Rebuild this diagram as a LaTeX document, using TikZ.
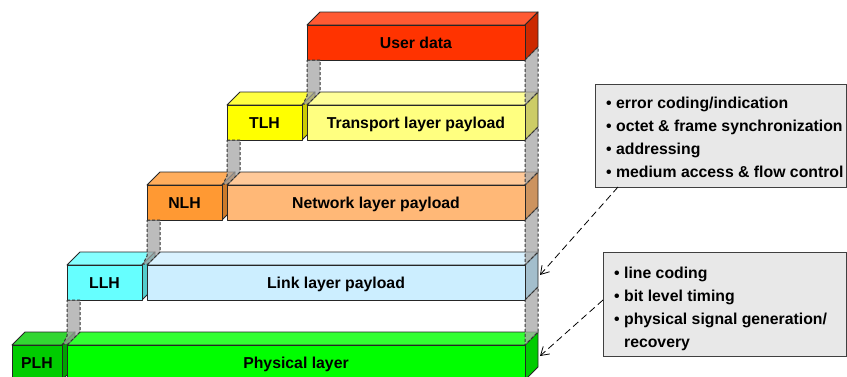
\documentclass[tikz,border=0pt]{standalone}
\usepackage{fontspec}
\setmainfont{Liberation Sans}
\usetikzlibrary{calc,arrows.meta}
\definecolor{udF}{HTML}{FF3300}\definecolor{udT}{HTML}{FF5A33}\definecolor{udS}{HTML}{CC2900}
\definecolor{thF}{HTML}{FFFF00}\definecolor{thT}{HTML}{FFFF40}\definecolor{thS}{HTML}{CCCC00}
\definecolor{tpF}{HTML}{FFFF80}\definecolor{tpT}{HTML}{FFFF99}\definecolor{tpS}{HTML}{CCCC66}
\definecolor{nhF}{HTML}{FF9933}\definecolor{nhT}{HTML}{FFAD5C}\definecolor{nhS}{HTML}{CC7A29}
\definecolor{npF}{HTML}{FFB877}\definecolor{npT}{HTML}{FFC999}\definecolor{npS}{HTML}{CC935F}
\definecolor{lhF}{HTML}{66FFFF}\definecolor{lhT}{HTML}{85FFFF}\definecolor{lhS}{HTML}{52CCCC}
\definecolor{lpF}{HTML}{CCEEFF}\definecolor{lpT}{HTML}{D9F2FF}\definecolor{lpS}{HTML}{A3BECC}
\definecolor{phF}{HTML}{00CC00}\definecolor{phT}{HTML}{33D633}\definecolor{phS}{HTML}{00A300}
\definecolor{plF}{HTML}{00FF00}\definecolor{plT}{HTML}{33FF33}\definecolor{plS}{HTML}{00CC00}
\definecolor{callF}{HTML}{E8E8E8}\definecolor{callD}{HTML}{404040}
\tikzset{
  edge/.style={draw=black!85,line width=0.9pt,line join=round},
  face/.style={edge,rectangle,inner sep=0pt,outer sep=0pt,
    font=\fontsize{15.8}{18}\selectfont\bfseries,text height=11.3pt,text depth=0pt},
  shaft/.style={draw=black!80,fill=black!35,fill opacity=0.75,line width=1pt,dash pattern=on 3pt off 2pt},
  callbox/.style={draw=callD,fill=callF,line width=1pt,rectangle,inner sep=0pt,outer sep=0pt},
  calltext/.style={inner sep=0pt,align=left,font=\fontsize{15.8}{23}\selectfont\bfseries},
  callarrow/.style={draw=black,line width=0.8pt,dash pattern=on 7pt off 4pt,
    -{Straight Barb[length=8pt,width=10pt]}}
}
\newcommand\layerbox[9]{%
  \filldraw[edge,fill=#7] (#2,#3) -- (#2+13,#3-13) -- (#4+13,#3-13) -- (#4,#3) -- cycle;
  \filldraw[edge,fill=#8] (#4,#3) -- (#4+13,#3-13) -- (#4+13,#5-13) -- (#4,#5) -- cycle;
  \node[face,fill=#6,minimum width={(#4-#2)*1pt},minimum height={(#5-#3)*1pt},anchor=north west] (#1) at (#2,#3) {#9};
}
\newcommand\lshaft[2]{%
  \draw[shaft] (#1.south west) -- ++(13,0) -- ($(#2.north west)+(13,-13)$) -- ($(#2.north west)+(1,-1)$)
     -- ++(-5,0) -- ($(#1.south west |- #2.north west)+(0,-9)$) -- cycle;
}
\newcommand\rshaft[2]{%
  \draw[shaft] (#1.south east) -- ++(13,-13) -- ($(#2.north east)+(13,-13)$) -- (#2.north east) -- cycle;
}
\begin{document}
\begin{tikzpicture}[x=1pt,y=-1pt]
\useasboundingbox (0,0) rectangle (847,376);
% layers
\layerbox{ud}{307}{25}{525}{60}{udF}{udT}{udS}{User data}
\layerbox{tlh}{227}{105}{302}{140}{thF}{thT}{thS}{TLH}
\layerbox{tp}{307}{105}{525}{140}{tpF}{tpT}{tpS}{Transport layer payload}
\layerbox{nlh}{147}{185}{222}{220}{nhF}{nhT}{nhS}{NLH}
\layerbox{np}{227}{185}{525}{220}{npF}{npT}{npS}{Network layer payload}
\layerbox{llh}{67}{265}{142}{300}{lhF}{lhT}{lhS}{LLH}
\layerbox{lp}{147}{265}{525}{300}{lpF}{lpT}{lpS}{Link layer payload}
\layerbox{plh}{12}{345}{62}{380}{phF}{phT}{phS}{PLH}
\layerbox{pl}{67}{345}{525}{380}{plF}{plT}{plS}{Physical layer}
% shafts
\lshaft{ud}{tp}
\lshaft{tlh}{np}
\lshaft{nlh}{lp}
\lshaft{llh}{pl}
\rshaft{ud}{tp}
\rshaft{tp}{np}
\rshaft{np}{lp}
\rshaft{lp}{pl}
% callouts
\node[callbox,minimum width=251pt,minimum height=103pt,anchor=north west] (c1) at (595,84) {};
\node[calltext,anchor=north west] (c1t) at (606,97)
  {\textbullet\ error coding/indication\\ \textbullet\ octet \& frame synchronization\\ \textbullet\ addressing\\ \textbullet\ medium access \& flow control};
\node[callbox,minimum width=243pt,minimum height=104pt,anchor=north west] (c2) at (603,252) {};
\node[calltext,anchor=north west] (c2t) at (614,266.5)
  {\textbullet\ line coding\\ \textbullet\ bit level timing\\ \textbullet\ physical signal generation/\\ \phantom{\textbullet\ }recovery};
\coordinate (e1) at (540,275);
\coordinate (e2) at (540,356);
\draw[callarrow] (c1.south west) ++(23,0) -- (e1);
\draw[callarrow] (c2.west) ++(0,-4) -- (e2);
\end{tikzpicture}
\end{document}
